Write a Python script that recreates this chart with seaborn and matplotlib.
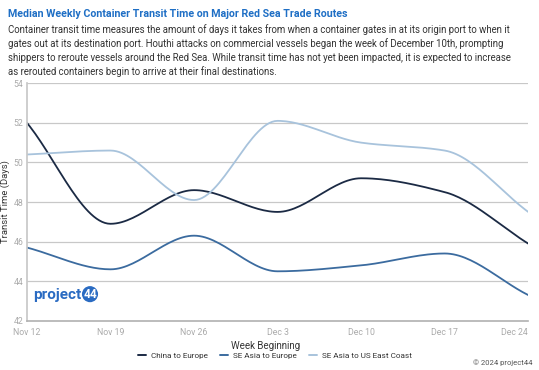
import matplotlib
matplotlib.use("Agg")
import matplotlib.pyplot as plt
import numpy as np
import pandas as pd
import seaborn as sns


WEEKS = ["Nov 12", "Nov 19", "Nov 26", "Dec 3", "Dec 10", "Dec 17", "Dec 24"]
CHINA_EUROPE = [52.0, 46.9, 48.6, 47.5, 49.2, 48.5, 45.9]
SEA_EUROPE = [45.7, 44.6, 46.3, 44.5, 44.8, 45.4, 43.3]
SEA_US_EAST = [50.4, 50.6, 48.1, 52.1, 51.0, 50.6, 47.5]
ROUTES = ["China to Europe", "SE Asia to Europe", "SE Asia to US East Coast"]
COLORS = ["#1b2a44", "#3b6b9f", "#a8c3dc"]
Y_TICKS = [42, 44, 46, 48, 50, 52, 54]

TITLE = "Median Weekly Container Transit Time on Major Red Sea Trade Routes"
SUBTITLE = (
    "Container transit time measures the amount of days it takes from when a container gates in at its origin port to when it\n"
    "gates out at its destination port. Houthi attacks on commercial vessels began the week of December 10th, prompting\n"
    "shippers to reroute vessels around the Red Sea. While transit time has not yet been impacted, it is expected to increase\n"
    "as rerouted containers begin to arrive at their final destinations."
)


def monotone_curve(x, y, steps=30):
    # monotone cubic hermite (same idea as d3 curveMonotoneX), only for drawing
    x = np.asarray(x, float)
    y = np.asarray(y, float)
    h = np.diff(x)
    d = np.diff(y) / h
    m = np.zeros_like(y)
    m[0], m[-1] = d[0], d[-1]
    for i in range(1, len(y) - 1):
        if d[i - 1] * d[i] <= 0:
            m[i] = 0.0
        else:
            w1 = 2 * h[i] + h[i - 1]
            w2 = h[i] + 2 * h[i - 1]
            m[i] = (w1 + w2) / (w1 / d[i - 1] + w2 / d[i])
    xs, ys = [], []
    for i in range(len(h)):
        t = np.linspace(0, 1, steps, endpoint=(i == len(h) - 1))
        h00 = 2 * t**3 - 3 * t**2 + 1
        h10 = t**3 - 2 * t**2 + t
        h01 = -2 * t**3 + 3 * t**2
        h11 = t**3 - t**2
        xs.append(x[i] + t * h[i])
        ys.append(h00 * y[i] + h10 * h[i] * m[i] + h01 * y[i + 1] + h11 * h[i] * m[i + 1])
    return np.concatenate(xs), np.concatenate(ys)


frames = []
pos = np.arange(len(WEEKS))
for name, vals in zip(ROUTES, [CHINA_EUROPE, SEA_EUROPE, SEA_US_EAST]):
    sx, sy = monotone_curve(pos, vals)
    frames.append(pd.DataFrame({"week": sx, "days": sy, "route": name}))
df = pd.concat(frames, ignore_index=True)

sns.set_theme(style="white")
plt.rcParams["font.family"] = ["Roboto", "DejaVu Sans"]

fig = plt.figure(figsize=(5.39, 3.70), dpi=100)
ax = fig.add_axes([0.050, 0.133, 0.930, 0.642])

sns.lineplot(data=df, x="week", y="days", hue="route", hue_order=ROUTES,
             palette=COLORS, sort=False, estimator=None, linewidth=1.3,
             legend=False, ax=ax)

ax.set_xlim(0, len(WEEKS) - 1)
ax.set_ylim(42, 54)
ax.set_yticks(Y_TICKS)
ax.set_xticks(pos)
ax.set_xticklabels(WEEKS)
ax.get_xticklabels()[-1].set_horizontalalignment("right")
for yv in Y_TICKS[1:]:
    ax.axhline(yv, color="#c8c8c8", linewidth=0.9, zorder=0)
for side in ["top", "right"]:
    ax.spines[side].set_visible(False)
ax.spines["left"].set_color("#c8c8c8")
ax.spines["bottom"].set_color("#b0b0b0")
ax.spines["bottom"].set_linewidth(1.2)
ax.tick_params(axis="both", labelsize=6.3, colors="#aaaaaa", length=0)
ax.tick_params(axis="x", pad=5)
ax.tick_params(axis="y", pad=2.5)
ax.set_ylabel("Transit Time (Days)", fontsize=6.8, color="#333333")
ax.yaxis.set_label_coords(-0.033, 0.5)
ax.set_xlabel("Week Beginning", fontsize=7, color="#333333")
ax.xaxis.set_label_coords(0.477, -0.085)

fig.text(0.015, 0.962, TITLE, fontsize=7.7, fontweight="bold", color="#1f6fc5",
         va="center", ha="left")
fig.text(0.015, 0.935, SUBTITLE, fontsize=6.95, color="#333333", va="top",
         ha="left", linespacing=1.4)

# project44 logo
fig.text(0.062, 0.203, "project", fontsize=11, fontweight="bold", color="#2a6bc2",
         va="center", ha="left")
fig.text(0.167, 0.205, "44", fontsize=8.5, fontweight="bold", color="white",
         va="center", ha="center",
         bbox=dict(boxstyle="circle,pad=0.1", fc="#2a6bc2", ec="none"))

handles = [plt.Line2D([], [], color=c, linewidth=1.4) for c in COLORS]
fig.legend(handles, ROUTES, loc="center", bbox_to_anchor=(0.51, 0.040), ncol=3,
           frameon=False, fontsize=5.9, handlelength=1.0, handletextpad=0.6,
           columnspacing=1.5, labelcolor="#333333")
fig.text(0.988, 0.019, "\u00a9 2024 project44", fontsize=5.5, color="#555555",
         ha="right", va="center")

fig.savefig("out.png", dpi=100)
